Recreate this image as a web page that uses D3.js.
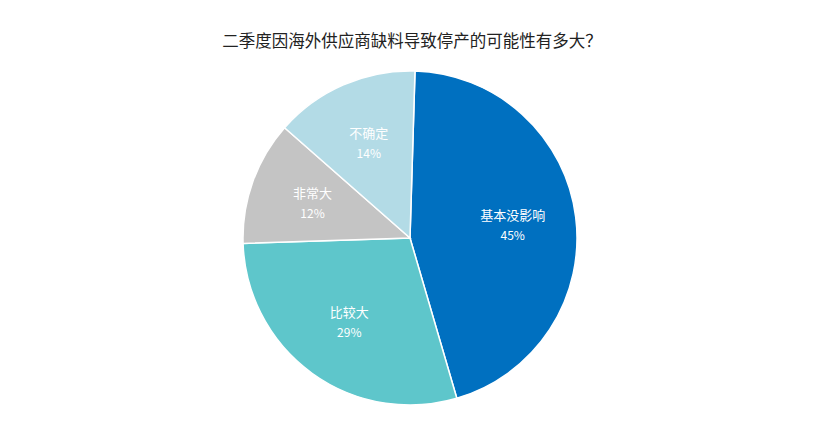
<!DOCTYPE html>
<html><head><meta charset="utf-8">
<script src="https://cdn.jsdelivr.net/npm/d3@7"></script>
<style>body{margin:0;background:#fff}</style>
</head><body>
<svg width="820" height="439"></svg>
<script>
// survey answers
const categories = ['基本没影响', '比较大', '非常大', '不确定'];
const values = [45, 29, 12, 14];
const colors = ['#0070c0', '#5ec6cb', '#c4c4c4', '#b3dbe6'];

const svg = d3.select('svg');
const cx = 410, cy = 238, r = 167;

svg.append('text')
  .attr('x', 412).attr('y', 47)
  .attr('text-anchor', 'middle')
  .attr('font-family', 'Noto Sans CJK SC')
  .attr('font-size', 16.5)
  .attr('fill', '#222')
  .text('二季度因海外供应商缺料导致停产的可能性有多大？');

const start = 0.03;
const pie = d3.pie().sort(null).value(d => d)
  .startAngle(start).endAngle(start + 2 * Math.PI)(values);
const arc = d3.arc().innerRadius(0).outerRadius(r);
const labelArc = d3.arc().innerRadius(r * 0.62).outerRadius(r * 0.62);

const g = svg.append('g').attr('transform', `translate(${cx},${cy})`);

g.selectAll('path').data(pie).join('path')
  .attr('d', arc)
  .attr('fill', (d, i) => colors[i])
  .attr('stroke', '#fff')
  .attr('stroke-width', 1.5);

const labels = g.selectAll('g.lbl').data(pie).join('g')
  .attr('class', 'lbl')
  .attr('transform', d => `translate(${labelArc.centroid(d)})`);

labels.append('text')
  .attr('text-anchor', 'middle').attr('y', -5)
  .attr('font-family', 'Noto Sans CJK SC').attr('font-size', 13)
  .attr('fill', '#fff')
  .text((d, i) => categories[i]);

labels.append('text')
  .attr('text-anchor', 'middle').attr('y', 15)
  .attr('font-family', 'Noto Sans CJK SC').attr('font-size', 12)
  .attr('fill', '#fff')
  .text(d => d.data + '%');
</script>
</body></html>
